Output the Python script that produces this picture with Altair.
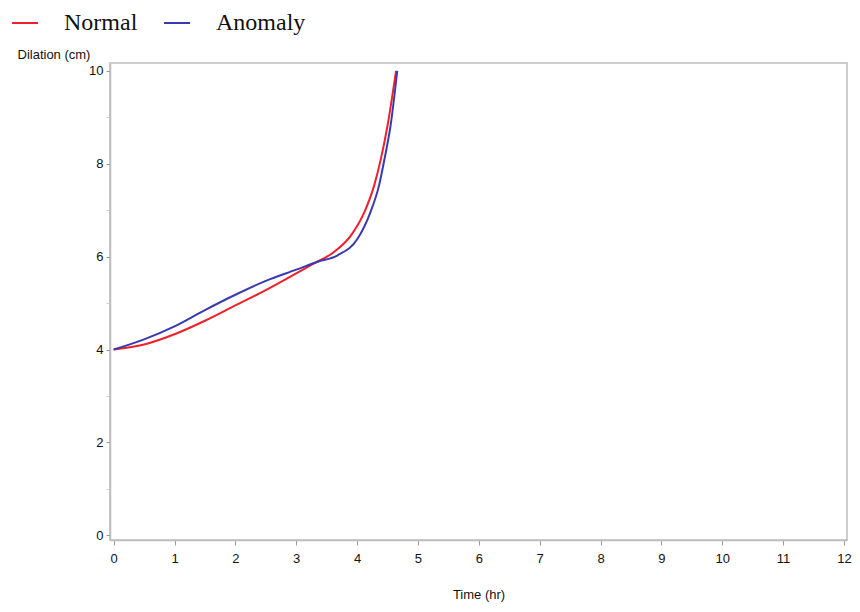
import altair as alt
import pandas as pd

series_names = ["Normal", "Anomaly"]
series_colors = ["#f0202a", "#3a3ab0"]

time_normal = [0, 0.5, 1.0, 1.5, 2.0, 2.5, 3.0, 3.24, 3.62, 3.90, 4.12, 4.28, 4.39, 4.50, 4.64]
dil_normal = [4.0, 4.11, 4.33, 4.62, 4.95, 5.28, 5.64, 5.82, 6.10, 6.46, 6.96, 7.53, 8.10, 8.82, 10.0]

time_anomaly = [0, 0.5, 1.0, 1.5, 2.0, 2.5, 3.0, 3.35, 3.68, 4.01, 4.22, 4.36, 4.45, 4.55, 4.66]
dil_anomaly = [4.0, 4.22, 4.5, 4.85, 5.18, 5.48, 5.72, 5.89, 6.03, 6.39, 6.96, 7.53, 8.10, 8.82, 10.0]

x_ticks = list(range(0, 13))
y_ticks = list(range(0, 11))

df = pd.concat([
    pd.DataFrame({"time": time_normal, "dilation": dil_normal, "series": "Normal"}),
    pd.DataFrame({"time": time_anomaly, "dilation": dil_anomaly, "series": "Anomaly"}),
])

FONT = "Liberation Sans"

xscale = alt.Scale(domain=[-0.06, 12.05], nice=False, zero=False)
yscale = alt.Scale(domain=[-0.1, 10.17], nice=False, zero=False)

chart = alt.Chart(df).mark_line(strokeWidth=2, interpolate="monotone").encode(
    x=alt.X("time:Q", scale=xscale,
            axis=alt.Axis(values=x_ticks, title="Time (hr)", format="d",
                          grid=False, tickSize=5, labelPadding=7,
                          titleY=54, titleBaseline="middle")),
    y=alt.Y("dilation:Q", scale=yscale,
            axis=alt.Axis(values=y_ticks, title="Dilation (cm)", format="d",
                          labelExpr="datum.value % 2 == 0 ? datum.label : ''",
                          tickColor=alt.condition("datum.value % 2 == 1",
                                                  alt.value("#d0d0d0"),
                                                  alt.value("#999999")),
                          grid=False, tickSize=4, labelPadding=3,
                          titleAngle=0, titleAlign="left", titleBaseline="alphabetic",
                          titleX=-93, titleY=-5)),
    color=alt.Color("series:N",
                    scale=alt.Scale(domain=series_names, range=series_colors),
                    sort=series_names,
                    legend=alt.Legend(title=None, orient="none", direction="horizontal",
                                      legendX=-99, legendY=-54,
                                      symbolType="stroke", symbolSize=676,
                                      symbolStrokeWidth=2, labelOffset=25,
                                      columnPadding=22,
                                      labelFont="Liberation Serif", labelFontSize=24,
                                      labelColor="#111")),
    detail="series:N",
).properties(
    width=737,
    height=477,
    autosize=alt.AutoSizeParams(type="none"),
    padding={"left": 102, "top": 55, "right": 5, "bottom": 64},
    background="white",
).configure_view(
    stroke="#bdbdbd", strokeWidth=1.5
).configure_axis(
    labelFont=FONT, titleFont=FONT, labelFontSize=13, titleFontSize=13,
    titleFontWeight="normal", labelColor="#111", titleColor="#111",
    domainColor="#bdbdbd", tickColor="#999999", domainWidth=1.5,
)

chart.save("out.html", embed_options={"renderer": "svg", "actions": False})
